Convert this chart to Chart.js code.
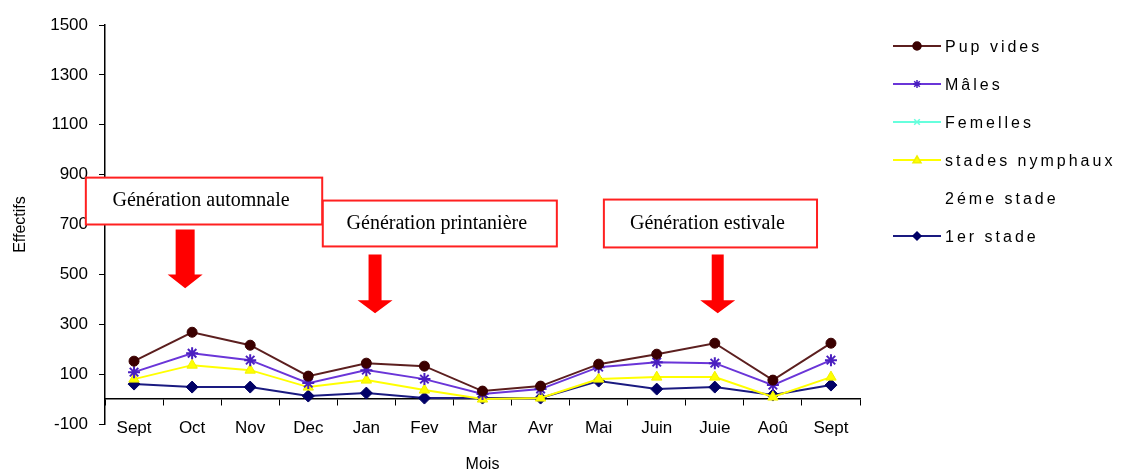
<!DOCTYPE html>
<html>
<head>
<meta charset="UTF-8">
<title>Effectifs</title>
<script src="https://cdn.jsdelivr.net/npm/chart.js@4.4.0/dist/chart.umd.min.js"></script>
<style>
  html, body { margin: 0; padding: 0; background: #fff; }
</style>
</head>
<body>
<canvas id="myChart" width="1136" height="471"></canvas>
<script>
// data
var mois = ['Sept', 'Oct', 'Nov', 'Dec', 'Jan', 'Fev', 'Mar', 'Avr', 'Mai', 'Juin', 'Juie', 'Aoû', 'Sept'];
var pupVides = [152, 268, 216, 92, 144, 132, 32, 52, 140, 180, 224, 76, 224];
var males = [108, 184, 156, 64, 116, 80, 20, 40, 128, 148, 144, 56, 156];
var femelles = [null, null, null, null, null, null, null, null, null, null, null, null, null]; // not visible
var stadesNymphaux = [80, 136, 116, 48, 76, 36, 0, 4, 80, 88, 88, 8, 88];
var deuxiemeStade = [null, null, null, null, null, null, null, null, null, null, null, null, null];
var premierStade = [60, 48, 48, 12, 24, 4, 4, 4, 72, 40, 48, 16, 56];
var yTicks = [-100, 100, 300, 500, 700, 900, 1100, 1300, 1500];

// text boxes + arrows, placed in axis units (x = month index, y = effectif)
var notes = [
  { text: 'Génération automnale', x1: -0.83, x2: 3.24, y1: 888, y2: 700, ax: 0.88, aTop: 680, aHead: 500, aEnd: 444, shaft: 19 },
  { text: 'Génération printanière', x1: 3.25, x2: 7.28, y1: 796, y2: 612, ax: 4.15, aTop: 580, aHead: 396, aEnd: 344, shaft: 13 },
  { text: 'Génération estivale', x1: 8.09, x2: 11.76, y1: 800, y2: 608, ax: 10.05, aTop: 580, aHead: 396, aEnd: 344, shaft: 12 }
];

function drawMarker(ctx, style, x, y, r, fill, stroke) {
  ctx.save();
  ctx.fillStyle = fill;
  ctx.strokeStyle = stroke;
  ctx.lineWidth = 1.5;
  ctx.beginPath();
  if (style === 'circle') {
    ctx.arc(x, y, r, 0, Math.PI * 2);
    ctx.fill(); ctx.stroke();
  } else if (style === 'triangle') {
    ctx.moveTo(x, y - r);
    ctx.lineTo(x + r, y + r * 0.7);
    ctx.lineTo(x - r, y + r * 0.7);
    ctx.closePath();
    ctx.fill(); ctx.stroke();
  } else if (style === 'rectRot') {
    ctx.moveTo(x, y - r); ctx.lineTo(x + r, y); ctx.lineTo(x, y + r); ctx.lineTo(x - r, y);
    ctx.closePath();
    ctx.fill(); ctx.stroke();
  } else if (style === 'star') {
    ctx.moveTo(x - r, y); ctx.lineTo(x + r, y);
    ctx.moveTo(x, y - r); ctx.lineTo(x, y + r);
    ctx.moveTo(x - r * 0.7, y - r * 0.7); ctx.lineTo(x + r * 0.7, y + r * 0.7);
    ctx.moveTo(x - r * 0.7, y + r * 0.7); ctx.lineTo(x + r * 0.7, y - r * 0.7);
    ctx.stroke();
  } else if (style === 'crossRot') {
    ctx.moveTo(x - r * 0.7, y - r * 0.7); ctx.lineTo(x + r * 0.7, y + r * 0.7);
    ctx.moveTo(x - r * 0.7, y + r * 0.7); ctx.lineTo(x + r * 0.7, y - r * 0.7);
    ctx.stroke();
  }
  ctx.restore();
}

// legend on the right (line + marker + spaced text)
var sideLegend = {
  id: 'sideLegend',
  afterDraw: function (chart) {
    var ctx = chart.ctx;
    chart.data.datasets.forEach(function (ds, i) {
      var y = 46 + i * 38;
      if (ds.borderColor !== 'transparent') {
        ctx.save();
        ctx.strokeStyle = ds.borderColor;
        ctx.lineWidth = 2;
        ctx.beginPath();
        ctx.moveTo(893, y); ctx.lineTo(941, y);
        ctx.stroke();
        ctx.restore();
        drawMarker(ctx, ds.pointStyle, 917, y, 4, ds.pointBackgroundColor, ds.pointBorderColor);
      }
      ctx.save();
      ctx.fillStyle = '#000';
      ctx.font = '16px "Liberation Sans", Arial, sans-serif';
      ctx.letterSpacing = '3px';
      ctx.textBaseline = 'alphabetic';
      ctx.fillText(ds.label, 945, y + 6);
      ctx.restore();
    });
  }
};

var generationNotes = {
  id: 'generationNotes',
  afterDatasetsDraw: function (chart) {
    var ctx = chart.ctx;
    var xs = chart.scales.x, ys = chart.scales.y;
    notes.forEach(function (n) {
      var l = xs.getPixelForValue(n.x1), r = xs.getPixelForValue(n.x2);
      var t = ys.getPixelForValue(n.y1), b = ys.getPixelForValue(n.y2);
      ctx.save();
      ctx.fillStyle = '#fff';
      ctx.fillRect(l, t, r - l, b - t);
      ctx.strokeStyle = '#ff2020';
      ctx.lineWidth = 2;
      ctx.strokeRect(l, t, r - l, b - t);
      ctx.fillStyle = '#000';
      ctx.font = '20px "Liberation Serif", "Times New Roman", serif';
      ctx.textAlign = 'center';
      ctx.textBaseline = 'middle';
      ctx.fillText(n.text, (l + r) / 2 - 3, (t + b) / 2);

      // arrow
      var cx = xs.getPixelForValue(n.ax);
      var at = ys.getPixelForValue(n.aTop), ah = ys.getPixelForValue(n.aHead), ae = ys.getPixelForValue(n.aEnd);
      var s = n.shaft / 2, hw = 17.5;
      ctx.fillStyle = '#ff0000';
      ctx.beginPath();
      ctx.moveTo(cx - s, at); ctx.lineTo(cx + s, at);
      ctx.lineTo(cx + s, ah); ctx.lineTo(cx + hw, ah);
      ctx.lineTo(cx, ae); ctx.lineTo(cx - hw, ah);
      ctx.lineTo(cx - s, ah);
      ctx.closePath();
      ctx.fill();
      ctx.restore();
    });
  }
};

var tickFont = { family: '"Liberation Sans", Arial, sans-serif', size: 17 };
var titleFont = { family: '"Liberation Sans", Arial, sans-serif', size: 16 };

var ctx = document.getElementById('myChart').getContext('2d');
var chart = new Chart(ctx, {
  type: 'line',
  data: {
    labels: mois,
    datasets: [
      { label: 'Pup vides', data: pupVides, borderColor: '#5c1f1f', pointBackgroundColor: '#3b0000', pointBorderColor: '#3b0000', pointStyle: 'circle', pointRadius: 5 },
      { label: 'Mâles', data: males, borderColor: '#6a35d8', pointBackgroundColor: '#4a1fc0', pointBorderColor: '#4a1fc0', pointStyle: 'star', pointRadius: 6, pointBorderWidth: 2 },
      { label: 'Femelles', data: femelles, borderColor: '#66ffdd', pointBackgroundColor: '#66ffdd', pointBorderColor: '#66ffdd', pointStyle: 'crossRot', pointRadius: 5 },
      { label: 'stades nymphaux', data: stadesNymphaux, borderColor: '#ffff00', pointBackgroundColor: '#ffff00', pointBorderColor: '#f0f000', pointStyle: 'triangle', pointRadius: 6 },
      { label: '2éme stade', data: deuxiemeStade, borderColor: 'transparent', pointBackgroundColor: 'transparent', pointBorderColor: 'transparent', pointRadius: 0 },
      { label: '1er stade', data: premierStade, borderColor: '#1a1a80', pointBackgroundColor: '#000066', pointBorderColor: '#000066', pointStyle: 'rectRot', pointRadius: 6 }
    ]
  },
  options: {
    responsive: false,
    animation: false,
    devicePixelRatio: 1,
    layout: { padding: { top: 25, right: 276, bottom: 47, left: 0 } },
    elements: { line: { borderWidth: 2, tension: 0 }, point: { borderWidth: 1 } },
    plugins: { legend: { display: false }, tooltip: { enabled: false } },
    scales: {
      x: {
        type: 'category',
        position: { y: 0 },
        offset: true,
        afterFit: function (scale) { scale.height = 47; },
        grid: { display: true, drawOnChartArea: false, offset: true, tickLength: 6, color: '#000' },
        border: { color: '#000', width: 1.5 },
        ticks: { color: '#000', font: tickFont, padding: 13, autoSkip: false, maxRotation: 0 },
        title: { display: true, text: 'Mois', color: '#000', font: titleFont, padding: { top: 0, bottom: -28 } }
      },
      y: {
        min: -100,
        max: 1500,
        afterFit: function (scale) { scale.width = 105; },
        afterBuildTicks: function (scale) { scale.ticks = yTicks.map(function (v) { return { value: v }; }); },
        grid: { display: true, drawOnChartArea: false, tickLength: 6, color: '#000' },
        border: { color: '#000', width: 1.5 },
        ticks: { color: '#000', font: tickFont, padding: 11, callback: function (v) { return String(v); } },
        title: { display: true, text: 'Effectifs', color: '#000', font: titleFont, padding: { top: 11, bottom: 0 } }
      }
    }
  },
  plugins: [generationNotes, sideLegend]
});
</script>
</body>
</html>
